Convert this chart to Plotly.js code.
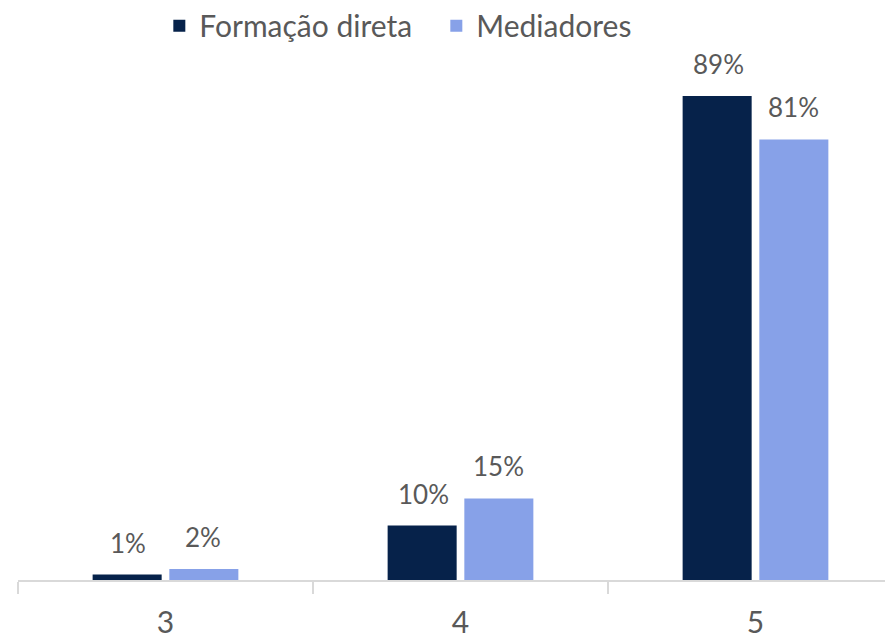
<!DOCTYPE html>
<html>
<head>
<meta charset="utf-8">
<script src="https://cdn.plot.ly/plotly-3.0.1.min.js"></script>
<style>
  html, body { margin: 0; padding: 0; background: #fff; }
  #chart { width: 885px; height: 641px; }
</style>
</head>
<body>
<div id="chart"></div>
<script>
// categorias e valores (%)
var categorias = ['3', '4', '5'];
var formacao_direta = [1, 10, 89];
var mediadores = [2, 15, 81];

var fonte = 'Lato, Noto Sans, sans-serif';
var cinza = '#595959';

var series = [
  {nome: 'Formação direta', valores: formacao_direta, cor: '#06224a', desvio: -37.5},
  {nome: 'Mediadores', valores: mediadores, cor: '#87a1e8', desvio: 37.5}
];

var data = [];
var anotacoes = [];
series.forEach(function (s) {
  data.push({
    type: 'bar',
    name: s.nome,
    x: categorias,
    y: s.valores,
    marker: {color: s.cor},
    hoverinfo: 'none'
  });
  //rotulos dos valores acima das barras (x = indice da categoria)
  for (var i = 0; i < categorias.length; i++) {
    anotacoes.push({
      x: i,
      y: s.valores[i],
      xref: 'x',
      yref: 'y',
      text: s.valores[i] + '%',
      showarrow: false,
      xshift: s.desvio,
      yshift: 14,
      yanchor: 'bottom',
      font: {size: 26, color: cinza, family: fonte}
    });
  }
});

var layout = {
  width: 885,
  height: 641,
  margin: {l: 18, r: 0, t: 60, b: 61},
  paper_bgcolor: '#ffffff',
  plot_bgcolor: '#ffffff',
  font: {family: fonte, color: cinza},
  barmode: 'group',
  bargap: 0.48,
  bargroupgap: 0.1,
  showlegend: true,
  legend: {
    orientation: 'h',
    x: 0.163,
    xanchor: 'left',
    yref: 'container',
    y: 0.96,
    yanchor: 'middle',
    font: {size: 30, color: cinza, family: fonte},
    itemwidth: 30,
    entrywidth: 232
  },
  annotations: anotacoes,
  xaxis: {
    type: 'category',
    range: [-0.5, 2.439],
    showline: true,
    linecolor: '#d9d9d9',
    linewidth: 2,
    ticks: 'outside',
    tickson: 'boundaries',
    ticklen: 12,
    tickwidth: 2,
    tickcolor: '#d9d9d9',
    ticklabelstandoff: 15,
    tickfont: {size: 30, color: cinza, family: fonte},
    showgrid: false,
    zeroline: false
  },
  yaxis: {
    range: [0, 95.6],
    visible: false,
    showgrid: false,
    zeroline: false
  }
};

Plotly.newPlot('chart', data, layout, {displayModeBar: false, staticPlot: true});
</script>
</body>
</html>
